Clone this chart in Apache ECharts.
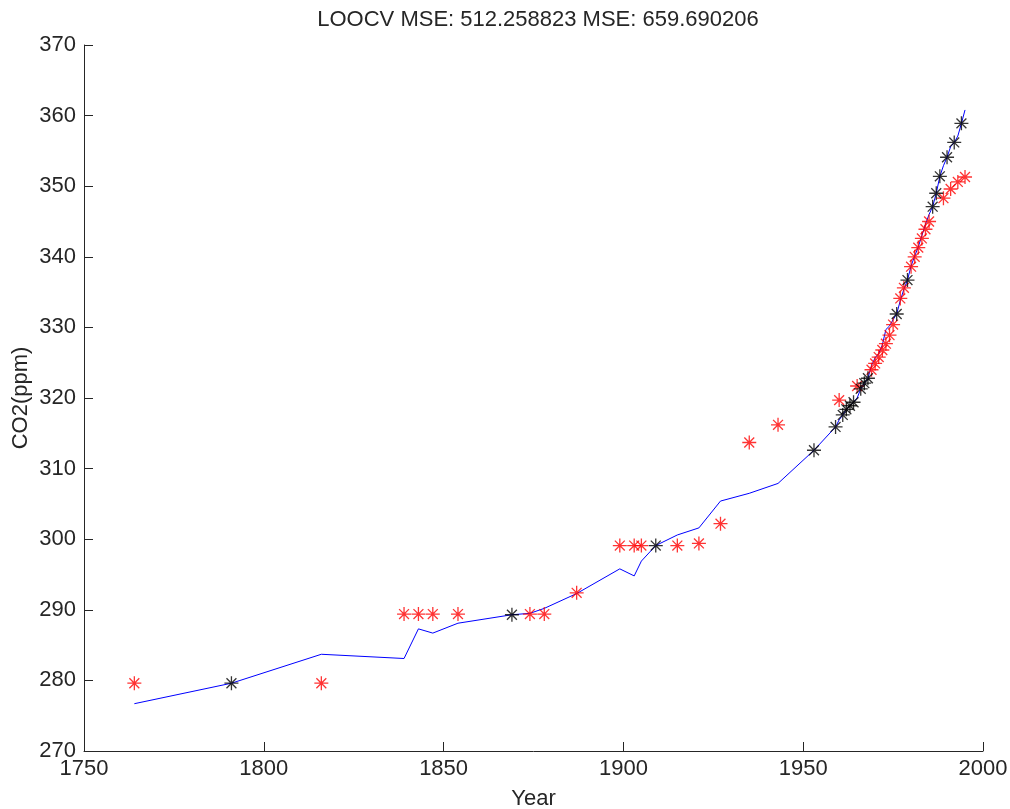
<!DOCTYPE html>
<html>
<head>
<meta charset="utf-8">
<title>CO2 LOOCV</title>
<script src="https://cdn.jsdelivr.net/npm/echarts@6/dist/echarts.min.js"></script>
<style>
  html, body { margin: 0; padding: 0; background: #ffffff; }
  #chart { width: 1010px; height: 809px; }
</style>
</head>
<body>
<div id="chart"></div>
<script>
// Measured CO2 record (ppm) by year, drawn as the blue line
const years = [1764, 1791, 1816, 1839, 1843, 1847, 1854, 1869, 1874, 1878, 1887,
  1899, 1903, 1905, 1909, 1915, 1921, 1927, 1935, 1943, 1953,
  1959, 1960, 1961, 1962, 1963, 1964, 1965, 1966, 1967, 1968, 1969, 1970,
  1971, 1972, 1973, 1974, 1975, 1976, 1977, 1978, 1979, 1980, 1981, 1982,
  1983, 1984, 1985, 1986, 1987, 1988, 1989, 1990, 1991, 1992, 1993, 1994, 1995];
const co2 = [276.7, 279.6, 283.7, 283.1, 287.3, 286.7, 288.1, 289.3, 289.5, 290.2, 292.3,
  295.8, 294.8, 296.9, 299.1, 300.6, 301.6, 305.4, 306.5, 307.9, 312.6,
  315.9, 316.9, 317.6, 318.4, 318.9, 319.4, 320.0, 321.3, 322.1, 322.8, 324.6, 325.7,
  326.3, 327.5, 329.7, 330.2, 331.1, 331.9, 333.8, 335.4, 336.7, 338.7, 340.1, 341.4,
  343.0, 344.6, 346.0, 347.1, 349.0, 351.4, 352.9, 354.1, 355.6, 356.2, 357.1, 358.9, 360.8];

// Leave-one-out predictions (red stars)
const predYears = [1764, 1816, 1839, 1843, 1847, 1854, 1874, 1878, 1887, 1899, 1903,
  1905, 1915, 1921, 1927, 1935, 1943, 1960, 1965, 1969, 1970, 1971, 1972, 1973,
  1974, 1975, 1977, 1978, 1980, 1981, 1982, 1983, 1984, 1985, 1989, 1991, 1993, 1995];
const predCo2 = [279.6, 279.6, 289.4, 289.4, 289.4, 289.4, 289.4, 289.4, 292.4, 299.1, 299.1,
  299.1, 299.1, 299.4, 302.2, 313.7, 316.2, 319.7, 321.7, 324.0, 324.9, 325.8, 326.8, 327.7,
  328.9, 330.4, 334.1, 335.6, 338.6, 340.0, 341.3, 342.6, 343.9, 345.0, 348.3, 349.6, 350.6, 351.3];

// Retained sample points (black stars)
const keptYears = [1791, 1869, 1909, 1953, 1959, 1961, 1962, 1963, 1964, 1966, 1967,
  1968, 1976, 1979, 1986, 1987, 1988, 1990, 1992, 1994];
const keptCo2 = [279.6, 289.3, 299.1, 312.6, 315.9, 317.6, 318.4, 318.9, 319.4, 321.3, 322.1,
  322.8, 331.9, 336.7, 347.1, 349.0, 351.4, 354.1, 356.2, 358.9];

const titleText = 'LOOCV MSE: 512.258823 MSE: 659.690206';
const xName = 'Year';
const yName = 'CO2(ppm)';

// Eight-armed asterisk marker
const star = 'path://M0,6L12,6M6,0L6,12M1.757,1.757L10.243,10.243M1.757,10.243L10.243,1.757';

const pair = (xs, ys) => xs.map((x, i) => [x, ys[i]]);
const font = 'Liberation Sans, Arial, sans-serif';
const ink = '#262626';

const chart = echarts.init(document.getElementById('chart'), null, { renderer: 'canvas' });
chart.setOption({
  backgroundColor: '#ffffff',
  animation: false,
  title: {
    text: titleText,
    left: 533, top: 4, textAlign: 'center',
    textStyle: { fontFamily: font, fontSize: 22, fontWeight: 'normal', color: ink }
  },
  grid: { left: 84, right: 27, top: 45, bottom: 58, containLabel: false, outerBoundsMode: 'none' },
  xAxis: {
    type: 'value', min: 1750, max: 2000, interval: 50,
    name: xName, nameLocation: 'middle', nameGap: 37,
    nameTextStyle: { fontFamily: font, fontSize: 22, color: ink },
    axisLine: { show: true, lineStyle: { color: ink, width: 1 } },
    axisTick: { show: true, inside: true, length: 9, lineStyle: { color: ink } },
    axisLabel: { fontFamily: font, fontSize: 22, color: ink, margin: 7,
      formatter: v => String(v) },
    splitLine: { show: false }
  },
  yAxis: {
    type: 'value', min: 270, max: 370, interval: 10,
    name: yName, nameLocation: 'middle', nameGap: 52, nameRotate: 90,
    nameMoveOverlap: false,
    nameTextStyle: { fontFamily: font, fontSize: 22, color: ink },
    axisLine: { show: true, lineStyle: { color: ink, width: 1 } },
    axisTick: { show: true, inside: true, length: 9, lineStyle: { color: ink } },
    axisLabel: { fontFamily: font, fontSize: 22, color: ink, margin: 8,
      formatter: v => String(v) },
    splitLine: { show: false }
  },
  series: [
    {
      type: 'line', data: pair(years, co2), showSymbol: false, z: 1,
      lineStyle: { color: '#0000ff', width: 1 }
    },
    {
      type: 'scatter', data: pair(predYears, predCo2), symbol: star, symbolSize: 14, z: 2,
      itemStyle: { color: 'rgba(0,0,0,0)', borderColor: '#ff0000', borderWidth: 1.3 }
    },
    {
      type: 'scatter', data: pair(keptYears, keptCo2), symbol: star, symbolSize: 14, z: 3,
      itemStyle: { color: 'rgba(0,0,0,0)', borderColor: '#000000', borderWidth: 1.3 }
    }
  ]
});
</script>
</body>
</html>
